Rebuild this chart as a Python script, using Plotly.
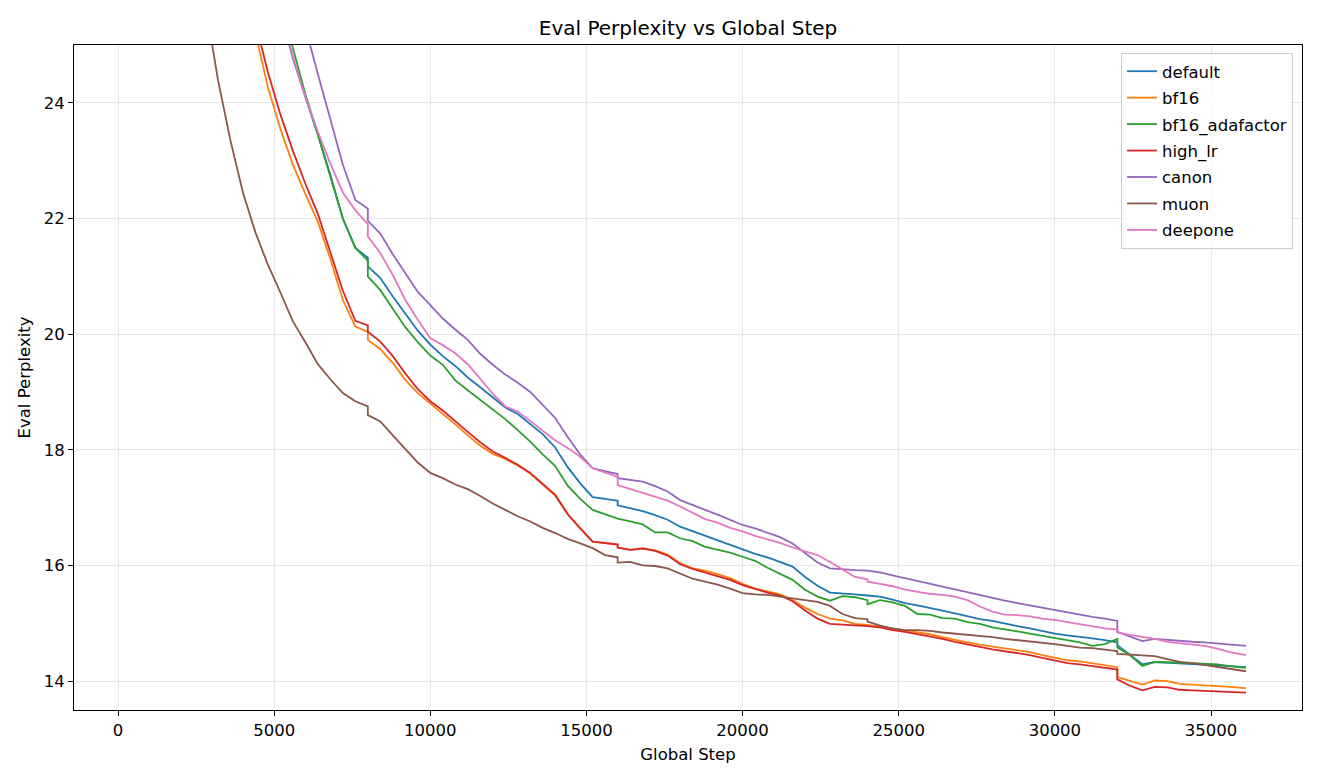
import plotly.graph_objects as go

STEPS = [2400, 2800, 3200, 3600, 4000, 4400, 4800, 5200, 5600, 6000, 6400, 6800, 7200, 7600,
         8000, 8000, 8400, 8800, 9200, 9600,
         10000, 10400, 10800, 11200, 11600, 12000, 12400, 12800, 13200, 13600, 14000, 14400,
         14800, 15200, 15600, 16000, 16000, 16400, 16800, 17200, 17600, 18000, 18400, 18800,
         19200, 19600, 20000, 20400, 20800, 21200, 21600, 22000, 22400, 22800, 23200, 23600,
         24000, 24000, 24400, 24800, 25200, 25600, 26000, 26400, 26800, 27200, 27600, 28000,
         28400, 28800, 29200, 29600, 30000, 30400, 30800, 31200, 31600, 32000, 32000, 32400,
         32800, 33200, 33600, 34000, 34400, 34800, 35200, 35600, 36120]

N = None
default = [N, N, N, N, N, N, 26.4, 25.6, 24.77, 24.1, 23.45, 22.75, 22.0, 21.49,
           21.32, 21.17, 20.97, 20.65, 20.35, 20.06,
           19.82, 19.62, 19.45, 19.25, 19.08, 18.90, 18.73, 18.62, 18.45, 18.27, 18.04, 17.70,
           17.42, 17.18, 17.15, 17.12, 17.04, 16.99, 16.94, 16.87, 16.79, 16.67, 16.59, 16.52,
           16.44, 16.35, 16.27, 16.20, 16.14, 16.06, 15.98, 15.80, 15.65, 15.53, 15.52, 15.50,
           15.48, 15.48, 15.46, 15.41, 15.35, 15.31, 15.27, 15.22, 15.17, 15.12, 15.07, 15.04,
           14.99, 14.95, 14.91, 14.86, 14.82, 14.79, 14.77, 14.74, 14.71, 14.67, 14.62, 14.45,
           14.29, 14.33, 14.32, 14.31, 14.30, 14.29, 14.28, 14.26, 14.24]

bf16 = [N, N, N, N, 26.15, 25.2, 24.27, 23.55, 22.93, 22.42, 21.94, 21.3, 20.59, 20.13,
        20.04, 19.90, 19.74, 19.50, 19.21, 18.98,
        18.80, 18.63, 18.44, 18.25, 18.07, 17.93, 17.84, 17.73, 17.59, 17.40, 17.21, 16.88,
        16.64, 16.41, 16.39, 16.36, 16.31, 16.27, 16.30, 16.26, 16.19, 16.04, 15.95, 15.91,
        15.85, 15.78, 15.68, 15.60, 15.55, 15.50, 15.40, 15.27, 15.16, 15.08, 15.05, 14.99,
        14.97, 14.97, 14.94, 14.90, 14.87, 14.84, 14.81, 14.76, 14.71, 14.67, 14.63, 14.60,
        14.57, 14.54, 14.50, 14.45, 14.40, 14.36, 14.34, 14.31, 14.28, 14.24, 14.07, 14.01,
        13.94, 14.01, 14.00, 13.95, 13.94, 13.93, 13.92, 13.90, 13.88]

bf16_adafactor = [N, N, N, N, N, N, 26.9, 25.8, 24.95, 24.15, 23.45, 22.72, 22.0, 21.49,
                  21.27, 21.0, 20.76, 20.44, 20.12, 19.86,
                  19.63, 19.47, 19.20, 19.03, 18.86, 18.70, 18.53, 18.34, 18.14, 17.92, 17.72, 17.38,
                  17.15, 16.96, 16.89, 16.82, 16.81, 16.76, 16.71, 16.57, 16.57, 16.47, 16.42, 16.32,
                  16.27, 16.22, 16.15, 16.08, 15.96, 15.86, 15.75, 15.58, 15.46, 15.39, 15.47, 15.45,
                  15.40, 15.33, 15.40, 15.36, 15.30, 15.16, 15.15, 15.09, 15.08, 15.02, 14.99, 14.93,
                  14.90, 14.86, 14.82, 14.78, 14.75, 14.71, 14.67, 14.61, 14.64, 14.73, 14.58, 14.45,
                  14.26, 14.33, 14.33, 14.32, 14.31, 14.30, 14.29, 14.26, 14.23]

high_lr = [N, N, N, N, 26.4, 25.4, 24.53, 23.8, 23.17, 22.6, 22.08, 21.4, 20.75, 20.23,
           20.15, 20.04, 19.87, 19.62, 19.32, 19.05,
           18.84, 18.68, 18.49, 18.31, 18.13, 17.97, 17.86, 17.74, 17.60, 17.41, 17.22, 16.89,
           16.64, 16.41, 16.39, 16.36, 16.31, 16.27, 16.29, 16.25, 16.17, 16.02, 15.94, 15.88,
           15.82, 15.75, 15.66, 15.59, 15.53, 15.48, 15.38, 15.22, 15.08, 14.99, 14.98, 14.97,
           14.96, 14.95, 14.93, 14.88, 14.85, 14.81, 14.78, 14.73, 14.68, 14.63, 14.59, 14.55,
           14.52, 14.49, 14.45, 14.40, 14.35, 14.31, 14.29, 14.26, 14.23, 14.20, 14.03, 13.92,
           13.84, 13.90, 13.89, 13.85, 13.84, 13.83, 13.83, 13.81, 13.80]

canon = [N, N, N, N, N, N, N, N, 26.3, 25.3, 24.5, 23.7, 22.93, 22.32,
         22.17, 21.96, 21.74, 21.38, 21.05, 20.73,
         20.50, 20.27, 20.08, 19.90, 19.66, 19.47, 19.30, 19.16, 19.00, 18.78, 18.55, 18.22,
         17.92, 17.68, 17.63, 17.58, 17.51, 17.48, 17.45, 17.37, 17.28, 17.13, 17.04, 16.96,
         16.88, 16.79, 16.70, 16.64, 16.57, 16.49, 16.38, 16.22, 16.05, 15.95, 15.93, 15.92,
         15.91, 15.91, 15.88, 15.83, 15.78, 15.73, 15.68, 15.63, 15.58, 15.54, 15.48, 15.43,
         15.39, 15.35, 15.31, 15.26, 15.22, 15.18, 15.15, 15.11, 15.08, 15.04, 14.85, 14.77,
         14.69, 14.73, 14.71, 14.69, 14.68, 14.67, 14.65, 14.63, 14.61]

muon = [27.0, 25.7, 24.4, 23.35, 22.45, 21.76, 21.2, 20.72, 20.22, 19.86, 19.48, 19.22, 18.98, 18.84,
        18.75, 18.60, 18.49, 18.25, 18.01, 17.78,
        17.60, 17.51, 17.40, 17.32, 17.20, 17.07, 16.96, 16.85, 16.76, 16.65, 16.56, 16.46,
        16.38, 16.30, 16.18, 16.14, 16.05, 16.06, 16.00, 15.99, 15.95, 15.86, 15.77, 15.72,
        15.67, 15.60, 15.52, 15.50, 15.49, 15.46, 15.43, 15.40, 15.37, 15.30, 15.16, 15.09,
        15.07, 15.03, 14.96, 14.91, 14.88, 14.88, 14.87, 14.84, 14.82, 14.81, 14.78, 14.76,
        14.73, 14.71, 14.69, 14.66, 14.64, 14.61, 14.58, 14.57, 14.55, 14.52, 14.47, 14.46,
        14.45, 14.43, 14.38, 14.33, 14.31, 14.28, 14.25, 14.21, 14.17]

deepone = [N, N, N, N, N, N, 26.4, 25.6, 24.8, 24.1, 23.50, 22.95, 22.45, 22.14,
           21.90, 21.69, 21.40, 21.02, 20.59, 20.25,
           19.93, 19.81, 19.67, 19.48, 19.23, 18.97, 18.75, 18.66, 18.50, 18.33, 18.16, 18.03,
           17.88, 17.68, 17.60, 17.53, 17.39, 17.32, 17.25, 17.19, 17.12, 17.02, 16.91, 16.80,
           16.74, 16.65, 16.59, 16.51, 16.45, 16.39, 16.31, 16.24, 16.18, 16.06, 15.93, 15.80,
           15.76, 15.72, 15.68, 15.64, 15.58, 15.54, 15.51, 15.49, 15.46, 15.40, 15.29, 15.20,
           15.15, 15.14, 15.12, 15.08, 15.06, 15.02, 14.98, 14.94, 14.91, 14.89, 14.84, 14.80,
           14.77, 14.73, 14.68, 14.66, 14.64, 14.61, 14.56, 14.50, 14.45]

SERIES = [
    ("default", default, "#1f77b4"),
    ("bf16", bf16, "#ff7f0e"),
    ("bf16_adafactor", bf16_adafactor, "#2ca02c"),
    ("high_lr", high_lr, "#d62728"),
    ("canon", canon, "#9467bd"),
    ("muon", muon, "#8c564b"),
    ("deepone", deepone, "#e377c2"),
]

X_TICKS = [0, 5000, 10000, 15000, 20000, 25000, 30000, 35000]
Y_TICKS = [14, 16, 18, 20, 22, 24]

FONT = "DejaVu Sans, Verdana, sans-serif"
FS = 16.5

fig = go.Figure()
for name, vals, color in SERIES:
    fig.add_trace(go.Scatter(
        x=STEPS, y=vals, mode="lines", name=name, legendgroup=name,
        line=dict(color=color, width=1.8), connectgaps=False,
    ))

grid = "rgba(176,176,176,0.3)"
axis_common = dict(
    showline=True, linecolor="black", linewidth=1, mirror=True,
    ticks="outside", ticklen=5, tickwidth=1, tickcolor="black",
    showgrid=True, gridcolor=grid, gridwidth=1, zeroline=False,
    tickfont=dict(family=FONT, size=FS, color="black"),
)

fig.update_layout(
    width=1320, height=780,
    paper_bgcolor="white", plot_bgcolor="white",
    margin=dict(l=74, r=18, t=45, b=70),
    font=dict(family=FONT, size=FS, color="black"),
    title=dict(text="Eval Perplexity vs Global Step", x=0.5, xref="paper",
               y=1 - 28 / 780, yref="container", yanchor="middle", xanchor="center",
               font=dict(family=FONT, size=20, color="black")),
    xaxis=dict(range=[-1409, 37913], tickvals=X_TICKS, ticktext=[str(v) for v in X_TICKS],
               title=dict(text="Global Step", font=dict(family=FONT, size=FS), standoff=9),
               **axis_common),
    yaxis=dict(range=[13.5, 25.0], tickvals=Y_TICKS, ticktext=[str(v) for v in Y_TICKS],
               title=dict(text="Eval Perplexity", font=dict(family=FONT, size=FS), standoff=8),
               **axis_common),
    legend=dict(x=0.9927, y=0.988, xanchor="right", yanchor="top",
                bgcolor="rgba(255,255,255,0.8)", bordercolor="#cccccc", borderwidth=1,
                font=dict(family=FONT, size=FS, color="black"),
                tracegroupgap=2, itemwidth=30),
    showlegend=True,
)

fig.write_html("out.html")
